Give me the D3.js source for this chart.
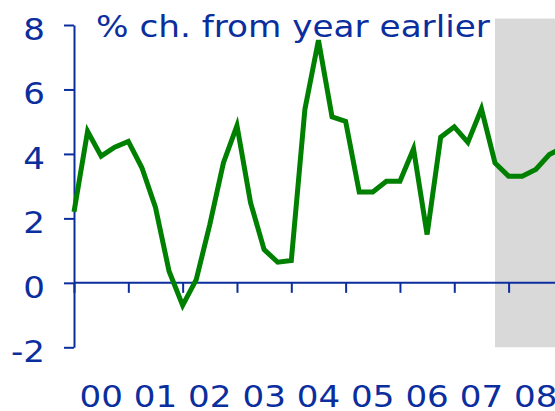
<!DOCTYPE html>
<html><head><meta charset="utf-8">
<script src="https://cdn.jsdelivr.net/npm/d3@7"></script>
<style>html,body{margin:0;padding:0;background:#fff;}svg{display:block;}</style>
</head><body>
<script>
// quarterly % change from year earlier, 2000Q1 onwards (last quarters are forecasts)
const values = [2.2, 4.7, 3.93, 4.21, 4.39, 3.57, 2.34, 0.36, -0.70, 0.10, 1.81, 3.72,
  4.88, 2.49, 1.03, 0.64, 0.69, 5.38, 7.53, 5.15, 5.01, 2.82, 2.82, 3.15,
  3.15, 4.16, 1.50, 4.52, 4.84, 4.36, 5.40, 3.72, 3.31, 3.31, 3.52, 3.98, 4.2];
const yearLabels = ["00","01","02","03","04","05","06","07","08"];
const yTicks = [-2, 0, 2, 4, 6, 8];
const forecastStart = 31;   // quarter index where shading begins
const forecastTop = 8.2;
const title = "% ch. from year earlier";

const W = 555, H = 411;
const blue = "#0b2e9e", green = "#008000";
const svg = d3.select("body").append("svg").attr("width", W).attr("height", H);

const x = d3.scaleLinear().domain([0, 32]).range([74, 508.6]);
const y = d3.scaleLinear().domain([-2, 8]).range([347.3, 25]);

// forecast shading
svg.append("rect")
  .attr("x", x(forecastStart)).attr("y", y(forecastTop))
  .attr("width", W - x(forecastStart)).attr("height", y(-2) - y(forecastTop))
  .attr("fill", "#d9d9d9");

// y axis
const ya = svg.append("g").attr("transform", `translate(${x(0)},0)`)
  .call(d3.axisLeft(y).tickValues(yTicks).tickSize(10).tickSizeOuter(0).tickFormat(""));
ya.selectAll("path,line").attr("stroke", blue).attr("stroke-width", 2);

// x axis at zero
const xa = svg.append("g").attr("transform", `translate(0,${y(0)})`)
  .call(d3.axisBottom(x).tickValues(d3.range(0, 33, 4)).tickSize(10).tickSizeOuter(0).tickFormat(""));
xa.select("path").remove();
xa.selectAll("line").attr("stroke", blue).attr("stroke-width", 2);
svg.append("line").attr("x1", x(0)).attr("x2", W).attr("y1", y(0)).attr("y2", y(0))
  .attr("stroke", blue).attr("stroke-width", 2);

// y labels
svg.selectAll("text.yl").data(yTicks).join("text").attr("class", "yl")
  .attr("transform", d => `translate(45,${y(d) + 15}) scale(1.1,1)`)
  .attr("text-anchor", "end").attr("fill", blue)
  .style("font-family", "DejaVu Sans").style("font-size", "31px")
  .text(d => d);

// x labels
svg.selectAll("text.xl").data(yearLabels).join("text").attr("class", "xl")
  .attr("transform", (d, i) => `translate(${x(i * 4 + 2)},407) scale(1.1,1)`)
  .attr("text-anchor", "middle").attr("fill", blue)
  .style("font-family", "DejaVu Sans").style("font-size", "31px")
  .text(d => d);

// line
svg.append("path").datum(values)
  .attr("d", d3.line().x((d, i) => x(i)).y(d => y(d)))
  .attr("fill", "none").attr("stroke", green).attr("stroke-width", 5)
  .attr("stroke-linejoin", "miter");

// title
svg.append("text")
  .attr("transform", "translate(96,37) scale(1.105,1)")
  .attr("fill", blue)
  .style("font-family", "DejaVu Sans").style("font-size", "31px")
  .text(title);
</script>
</body></html>
